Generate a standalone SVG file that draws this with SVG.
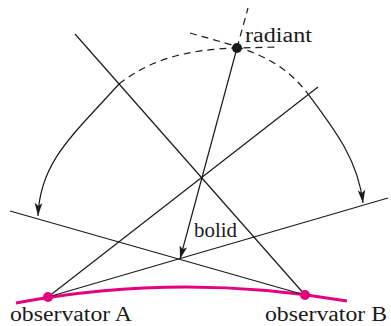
<svg xmlns="http://www.w3.org/2000/svg" width="391" height="326" viewBox="0 0 391 326">
<style>
.ln{fill:none;stroke:#1a1a1a;stroke-width:1.2}
.dash{fill:none;stroke:#1a1a1a;stroke-width:1.2;stroke-dasharray:7 5}
.arr{marker-end:url(#ah)}
.lbl{font-family:"Liberation Serif","DejaVu Serif",serif;font-size:20.5px;fill:#1a1a1a}
.obs{fill:#e6007e}
</style>
<defs>
<marker id="ah" markerUnits="userSpaceOnUse" viewBox="-14 -5 15 10" refX="0" refY="0" markerWidth="15" markerHeight="10" orient="auto">
<path d="M0,0 L-13,-3.8 L-10,0 L-13,3.8 Z" fill="#1a1a1a"/>
</marker>
</defs>
<rect width="391" height="326" fill="#fff"/>
<g id="horizon">
<path d="M16,303 Q180,272 347,301" fill="none" stroke="#e6007e" stroke-width="3"/>
</g>
<g id="connectors">
<line class="ln" x1="75" y1="34" x2="305" y2="295"/>
<line class="ln" x1="48" y1="297" x2="318" y2="87"/>
<line class="ln" x1="10" y1="211" x2="305" y2="295"/>
<line class="ln" x1="48" y1="297" x2="388" y2="198"/>
<line class="ln arr" x1="237" y1="48" x2="180" y2="259"/>
<line class="dash" x1="237" y1="48" x2="248" y2="8"/>
<path class="dash" d="M119,84 C150.6,59.2 187,49.5 237,48 L278,47"/>
<path class="dash" d="M190,33 C238,47 278,54 308,94"/>
<path class="ln arr" d="M119,84 C72,136 40,162 38,216"/>
<path class="ln arr" d="M308,94 C335,130 358,160 363,203"/>
</g>
<g id="radiant">
<circle cx="237" cy="48" r="5" fill="#1a1a1a"/>
<text class="lbl" x="245" y="42" textLength="67" lengthAdjust="spacingAndGlyphs">radiant</text>
</g>
<g id="bolid">
<text class="lbl" x="194" y="237" textLength="43" lengthAdjust="spacingAndGlyphs">bolid</text>
</g>
<g id="observer-a">
<circle class="obs" cx="48" cy="297" r="5"/>
<text class="lbl" x="10" y="321" textLength="122" lengthAdjust="spacingAndGlyphs">observator A</text>
</g>
<g id="observer-b">
<circle class="obs" cx="305" cy="295" r="5"/>
<text class="lbl" x="265" y="321" textLength="122" lengthAdjust="spacingAndGlyphs">observator B</text>
</g>
</svg>
